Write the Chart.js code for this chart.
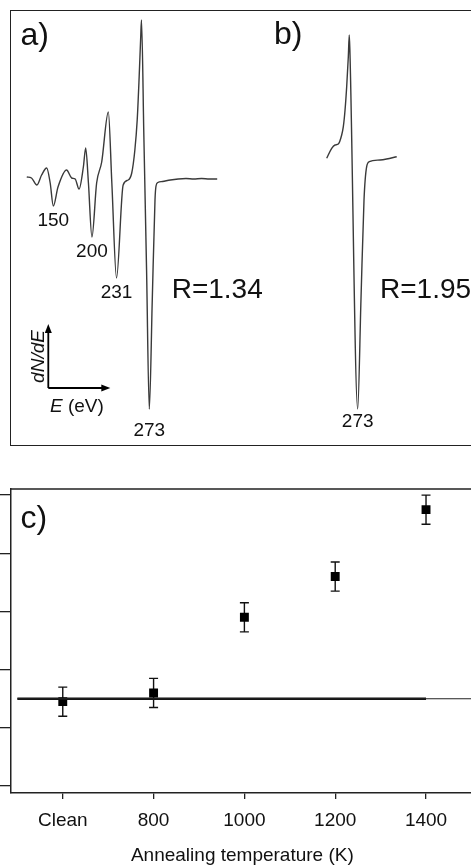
<!DOCTYPE html>
<html>
<head>
<meta charset="utf-8">
<script src="https://cdn.jsdelivr.net/npm/chart.js@4.4.1/dist/chart.umd.min.js"></script>
<style>
body{margin:0;width:471px;height:867px;overflow:hidden;background:#fff;position:relative;font-family:"Liberation Sans",Arial,sans-serif}
#frame{position:absolute;left:10px;top:10px;width:480px;height:436px;border:1.5px solid #222;border-right:none;box-sizing:border-box}
canvas{position:absolute}
</style>
</head>
<body>
<div id="frame"></div>
<canvas id="specA" width="258" height="435" style="left:10px;top:10px"></canvas>
<canvas id="specB" width="212" height="435" style="left:268px;top:10px"></canvas>
<canvas id="ratio" width="480" height="395" style="left:0;top:480px"></canvas>
<script>
// a) spectrum, energy (eV) vs dN/dE (arb. units)
var energyA = [116, 122, 129, 135, 141.5, 146, 150, 156, 167, 173.5, 178, 183, 188.5, 191.5, 195, 199.5, 205.5, 212, 220.5, 225, 231, 239.5, 246, 250.5, 254.5, 257.5, 260, 262, 263, 266, 269.5, 273, 276.8, 280.3, 281.6, 284, 290, 300, 310, 320, 330, 340, 350, 360];
var intensityA = [0.3, 0.2, -0.5, 0.5, 1.2, -0.3, -2.6, -0.7, 1.0, 0.2, 0.1, -0.9, 1.3, 3.2, -0.3, -5.7, -0.3, 1.8, 6.8, -0.3, -9.8, -0.5, 0.0, 0.7, 3.0, 6.0, 10.3, 14.3, 16.0, 4.5, -9.0, -22.9, -12.0, -2.0, -0.6, -0.25, -0.15, 0, 0.1, 0.15, 0.1, 0.15, 0.1, 0.1];
var peakEnergyA = [150, 199.5, 231, 273];
var peakLabelsA = ['150', '200', '231', '273'];

// b) spectrum
var energyB = [233.3, 239.7, 244, 248.2, 252.5, 254.6, 256.8, 258.9, 261, 262.2, 263, 273, 277.2, 281.1, 284.5, 287.9, 301.6, 310, 323];
var intensityB = [0.17, 1.17, 1.5, 1.6, 2.5, 3.33, 5.0, 7.33, 10.33, 12.5, 11.0, -24.9, -14.0, -4.0, -0.67, -0.17, 0, 0.1, 0.33];
var peakEnergyB = [273];
var peakLabelsB = ['273'];

var ratioLabels = ['R=1.34', 'R=1.95'];

// c) ratio vs annealing temperature
var tempK = [600, 800, 1000, 1200, 1400];
var tempLabels = ['Clean', '800', '1000', '1200', '1400'];
var ratioR = [1.29, 1.32, 1.58, 1.72, 1.95];
var ratioErr = [0.05, 0.05, 0.05, 0.05, 0.05];
var yTicks = [1.0, 1.2, 1.4, 1.6, 1.8, 2.0];
var refLevel = 1.30;
var xMin = 486, xMax = 1505;

var FONT = '"Liberation Sans", Arial, sans-serif';

function nearestY(xs, ys, e) {
  var best = 0;
  xs.forEach(function (x, i) { if (Math.abs(x - e) < Math.abs(xs[best] - e)) best = i; });
  return ys[best];
}

function specChart(id, xs, ys, xmin, xmax, ymin, ymax, extra) {
  var pts = xs.map(function (x, i) { return {x: x, y: ys[i]}; });
  return new Chart(document.getElementById(id), {
    type: 'line',
    data: {datasets: [{data: pts, borderColor: '#3a3a3a', borderWidth: 1.4, pointRadius: 0,
      cubicInterpolationMode: 'monotone', fill: false}]},
    options: {
      responsive: false, animation: false, devicePixelRatio: 1,
      layout: {padding: 0},
      plugins: {legend: {display: false}, tooltip: {enabled: false}},
      scales: {
        x: {type: 'linear', display: false, min: xmin, max: xmax},
        y: {display: false, min: ymin, max: ymax}
      }
    },
    plugins: [extra]
  });
}

// labels for a)
var labelsA = {
  id: 'labelsA',
  afterDraw: function (chart) {
    var ctx = chart.ctx, sx = chart.scales.x, sy = chart.scales.y, a = chart.chartArea;
    var gap = [20, 19.5, 20, 27];
    ctx.save();
    ctx.fillStyle = '#111';
    ctx.font = '32px ' + FONT;
    ctx.textAlign = 'left';
    ctx.fillText('a)', a.left + 10.5, a.top + 35);
    ctx.font = '19px ' + FONT;
    ctx.textAlign = 'center';
    peakEnergyA.forEach(function (e, i) {
      var y = sy.getPixelForValue(nearestY(energyA, intensityA, e));
      ctx.fillText(peakLabelsA[i], sx.getPixelForValue(e), y + gap[i]);
    });
    ctx.font = '28px ' + FONT;
    ctx.textAlign = 'left';
    ctx.fillText(ratioLabels[0], a.left + 161.7, a.top + 288);

    // dN/dE vs E axes sketch
    var ox = a.left + 38.3, oy = a.top + 378;
    ctx.strokeStyle = '#000';
    ctx.lineWidth = 1.8;
    ctx.beginPath();
    ctx.moveTo(ox, oy); ctx.lineTo(ox, oy - 58);
    ctx.moveTo(ox, oy); ctx.lineTo(ox + 56, oy);
    ctx.stroke();
    ctx.fillStyle = '#000';
    ctx.beginPath(); ctx.moveTo(ox, oy - 64); ctx.lineTo(ox - 3.5, oy - 55); ctx.lineTo(ox + 3.5, oy - 55); ctx.fill();
    ctx.beginPath(); ctx.moveTo(ox + 62, oy); ctx.lineTo(ox + 53, oy - 3.5); ctx.lineTo(ox + 53, oy + 3.5); ctx.fill();

    ctx.fillStyle = '#111';
    ctx.save();
    ctx.translate(a.left + 34, a.top + 346.5);
    ctx.rotate(-Math.PI / 2);
    ctx.textAlign = 'center';
    ctx.font = 'italic 19px ' + FONT;
    ctx.fillText('dN/dE', 0, 0);
    ctx.restore();
    ctx.textAlign = 'left';
    ctx.font = 'italic 19px ' + FONT;
    ctx.fillText('E', a.left + 40, a.top + 401.7);
    var w = ctx.measureText('E').width;
    ctx.font = '19px ' + FONT;
    ctx.fillText(' (eV)', a.left + 40 + w, a.top + 401.7);
    ctx.restore();
  }
};

// labels for b)
var labelsB = {
  id: 'labelsB',
  afterDraw: function (chart) {
    var ctx = chart.ctx, sx = chart.scales.x, sy = chart.scales.y, a = chart.chartArea;
    ctx.save();
    ctx.fillStyle = '#111';
    ctx.font = '32px ' + FONT;
    ctx.textAlign = 'left';
    ctx.fillText('b)', a.left + 6, a.top + 34);
    ctx.font = '19px ' + FONT;
    ctx.textAlign = 'center';
    peakEnergyB.forEach(function (e, i) {
      var y = sy.getPixelForValue(nearestY(energyB, intensityB, e));
      ctx.fillText(peakLabelsB[i], sx.getPixelForValue(e), y + 18);
    });
    ctx.font = '28px ' + FONT;
    ctx.textAlign = 'left';
    ctx.fillText(ratioLabels[1], a.left + 112, a.top + 288);
    ctx.restore();
  }
};

specChart('specA', energyA, intensityA, 94.5, 425.1, -26.5, 17, labelsA);
specChart('specB', energyB, intensityB, 158.1, 429.7, -28.5, 15, labelsB);

// error bars + box + panel label for c)
var errorBars = {
  id: 'errorBars',
  beforeDatasetsDraw: function (chart) {
    var ctx = chart.ctx, sx = chart.scales.x, sy = chart.scales.y;
    ctx.save();
    ctx.strokeStyle = '#111';
    ctx.lineWidth = 1.4;
    tempK.forEach(function (t, i) {
      var x = sx.getPixelForValue(t);
      var y1 = sy.getPixelForValue(ratioR[i] + ratioErr[i]);
      var y2 = sy.getPixelForValue(ratioR[i] - ratioErr[i]);
      ctx.beginPath();
      ctx.moveTo(x, y1); ctx.lineTo(x, y2);
      ctx.moveTo(x - 4.5, y1); ctx.lineTo(x + 4.5, y1);
      ctx.moveTo(x - 4.5, y2); ctx.lineTo(x + 4.5, y2);
      ctx.stroke();
    });
    ctx.restore();
  },
  afterDraw: function (chart) {
    var ctx = chart.ctx, a = chart.chartArea;
    ctx.save();
    ctx.strokeStyle = '#222';
    ctx.lineWidth = 1.5;
    ctx.beginPath();
    ctx.moveTo(a.left, a.top); ctx.lineTo(a.right, a.top); ctx.lineTo(a.right, a.bottom);
    ctx.stroke();
    ctx.fillStyle = '#111';
    ctx.font = '32px ' + FONT;
    ctx.fillText('c)', a.left + 9.5, a.top + 39);
    ctx.restore();
  }
};

new Chart(document.getElementById('ratio'), {
  type: 'scatter',
  data: {
    datasets: [
      {type: 'line', data: [{x: 500, y: refLevel}, {x: xMax, y: refLevel}], borderColor: '#222', borderWidth: 1.2, pointRadius: 0},
      {type: 'line', data: [{x: 500, y: refLevel}, {x: 1400, y: refLevel}], borderColor: '#111', borderWidth: 2.6, pointRadius: 0},
      {data: tempK.map(function (t, i) { return {x: t, y: ratioR[i]}; }),
        pointStyle: 'rect', pointRadius: 6.3, backgroundColor: '#000', borderColor: '#000', borderWidth: 0}
    ]
  },
  options: {
    responsive: false, animation: false, devicePixelRatio: 1,
    layout: {padding: {top: 9, left: 0, right: 0, bottom: 0}},
    plugins: {legend: {display: false}, tooltip: {enabled: false}},
    scales: {
      x: {
        type: 'linear', min: xMin, max: xMax,
        afterBuildTicks: function (s) { s.ticks = tempK.map(function (v) { return {value: v}; }); },
        afterFit: function (s) { s.height = 82; },
        ticks: {
          color: '#111', font: {size: 19, family: FONT}, padding: 10, maxRotation: 0,
          callback: function (v) { var i = tempK.indexOf(v); return i >= 0 ? tempLabels[i] : ''; }
        },
        grid: {drawOnChartArea: false, tickLength: 6, color: '#222', lineWidth: 1.3},
        border: {color: '#222', width: 1.5},
        title: {display: true, text: 'Annealing temperature (K)', color: '#111',
          font: {size: 19, family: FONT}, padding: {top: 0, bottom: 7.6}}
      },
      y: {
        min: 0.976, max: 2.021,
        afterBuildTicks: function (s) { s.ticks = yTicks.map(function (v) { return {value: v}; }); },
        afterFit: function (s) { s.width = 11; },
        ticks: {display: false},
        grid: {drawOnChartArea: false, tickLength: 11, color: '#222', lineWidth: 1.3},
        border: {color: '#222', width: 1.5}
      }
    }
  },
  plugins: [errorBars]
});
</script>
</body>
</html>
